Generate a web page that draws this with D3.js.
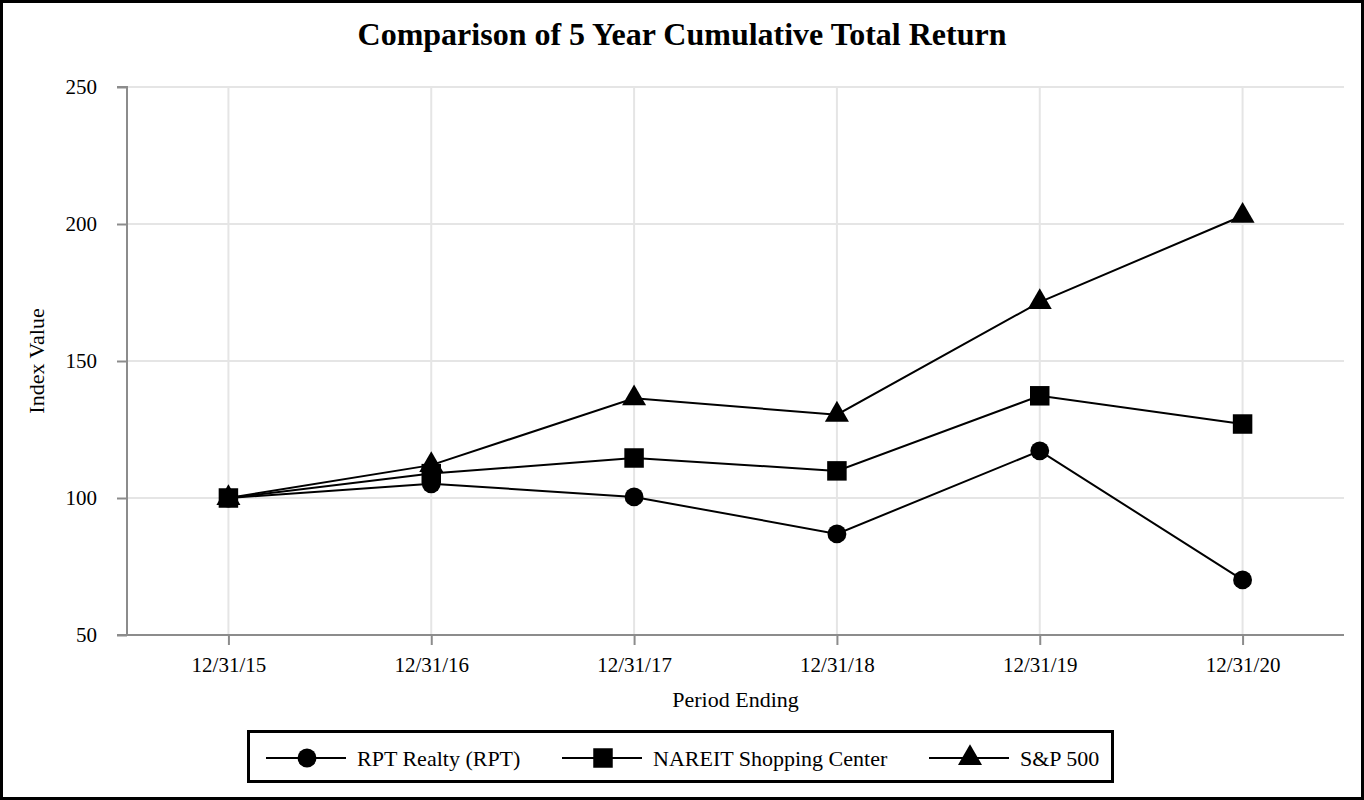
<!DOCTYPE html>
<html><head><meta charset="utf-8">
<script src="https://cdn.jsdelivr.net/npm/d3@7/dist/d3.min.js"></script>
<style>body{margin:0;background:#fff}svg{display:block}text{font-family:"Liberation Serif","Times New Roman",serif}</style>
</head><body>
<svg id="c" width="1364" height="800"></svg>
<script>
const categories = ["12/31/15","12/31/16","12/31/17","12/31/18","12/31/19","12/31/20"];
const rpt = [100, 105.2, 100.4, 86.9, 117.2, 70.1];
const nareit = [100, 108.9, 114.6, 109.9, 137.3, 127.0];
const sp500 = [100, 112.0, 136.4, 130.4, 171.5, 203.0];
const yTicks = [50, 100, 150, 200, 250];
const seriesNames = ["RPT Realty (RPT)", "NAREIT Shopping Center", "S&P 500"];

const svg = d3.select("#c");
const W = 1364, H = 800;
const L = 127, R = 1344, T = 87, B = 635;
const x = d3.scalePoint().domain(categories).range([L, R]).padding(0.5);
const y = d3.scaleLinear().domain([50, 250]).range([B, T]);

// outer border
svg.append("rect").attr("x",1.5).attr("y",1.5).attr("width",W-3).attr("height",H-3)
  .attr("fill","none").attr("stroke","#000").attr("stroke-width",3);

// title
svg.append("text").attr("x",682).attr("y",45).attr("text-anchor","middle")
  .attr("font-size",32).attr("font-weight","bold").text("Comparison of 5 Year Cumulative Total Return");

// grid
svg.append("g").selectAll("line").data(yTicks).join("line")
  .attr("x1",L).attr("x2",R).attr("y1",d=>y(d)).attr("y2",d=>y(d))
  .attr("stroke","#e5e5e5").attr("stroke-width",2);
svg.append("g").selectAll("line").data(categories).join("line")
  .attr("x1",d=>x(d)).attr("x2",d=>x(d)).attr("y1",T).attr("y2",B)
  .attr("stroke","#e5e5e5").attr("stroke-width",2);

// axes
const yAxis = svg.append("g").attr("transform",`translate(${L},0)`)
  .call(d3.axisLeft(y).tickValues(yTicks).tickSize(10).tickPadding(20).tickFormat(d3.format("d")));
const xAxis = svg.append("g").attr("transform",`translate(0,${B})`)
  .call(d3.axisBottom(x).tickSize(10).tickPadding(12));
[yAxis, xAxis].forEach(g=>{
  g.attr("font-size",21).attr("font-family","'Liberation Serif','Times New Roman',serif");
  g.select(".domain").attr("stroke","#8c8c8c").attr("stroke-width",2);
  g.selectAll(".tick line").attr("stroke","#8c8c8c").attr("stroke-width",2);
  g.selectAll(".tick text").attr("fill","#000");
});
yAxis.select(".domain").attr("d",`M-10,${T}H0V${B}`);
xAxis.select(".domain").attr("d",`M${L-10},0H${R}`);

// axis titles
svg.append("text").attr("transform",`translate(44,${(T+B)/2}) rotate(-90)`)
  .attr("text-anchor","middle").attr("font-size",22).text("Index Value");
svg.append("text").attr("x",(L+R)/2).attr("y",707).attr("text-anchor","middle")
  .attr("font-size",22).text("Period Ending");

const series = [
  {name: seriesNames[0], values: rpt, shape: d3.symbolCircle, size: 280},
  {name: seriesNames[1], values: nareit, shape: d3.symbolSquare, size: 380},
  {name: seriesNames[2], values: sp500, shape: d3.symbolTriangle, size: 250}
];
const line = d3.line().x((d,i)=>x(categories[i])).y(d=>y(d));
series.forEach(s=>{
  svg.append("path").datum(s.values).attr("d",line).attr("fill","none")
    .attr("stroke","#000").attr("stroke-width",2);
});
series.forEach(s=>{
  svg.append("g").selectAll("path").data(s.values).join("path")
    .attr("transform",(d,i)=>`translate(${x(categories[i])},${y(d)})`)
    .attr("d",d3.symbol().type(s.shape).size(s.size)).attr("fill","#000");
});

// legend
svg.append("rect").attr("x",248.5).attr("y",731.5).attr("width",864).attr("height",50)
  .attr("fill","#fff").attr("stroke","#000").attr("stroke-width",3);
const legX = [266, 562, 929];
series.forEach((s,i)=>{
  const g = svg.append("g").attr("transform",`translate(${legX[i]},758)`);
  g.append("line").attr("x1",0).attr("x2",80).attr("y1",0).attr("y2",0).attr("stroke","#000").attr("stroke-width",2);
  g.append("path").attr("transform","translate(41,0)").attr("d",d3.symbol().type(s.shape).size(s.size)).attr("fill","#000");
  g.append("text").attr("x",91).attr("y",8).attr("font-size",22).text(s.name);
});
</script>
</body></html>
